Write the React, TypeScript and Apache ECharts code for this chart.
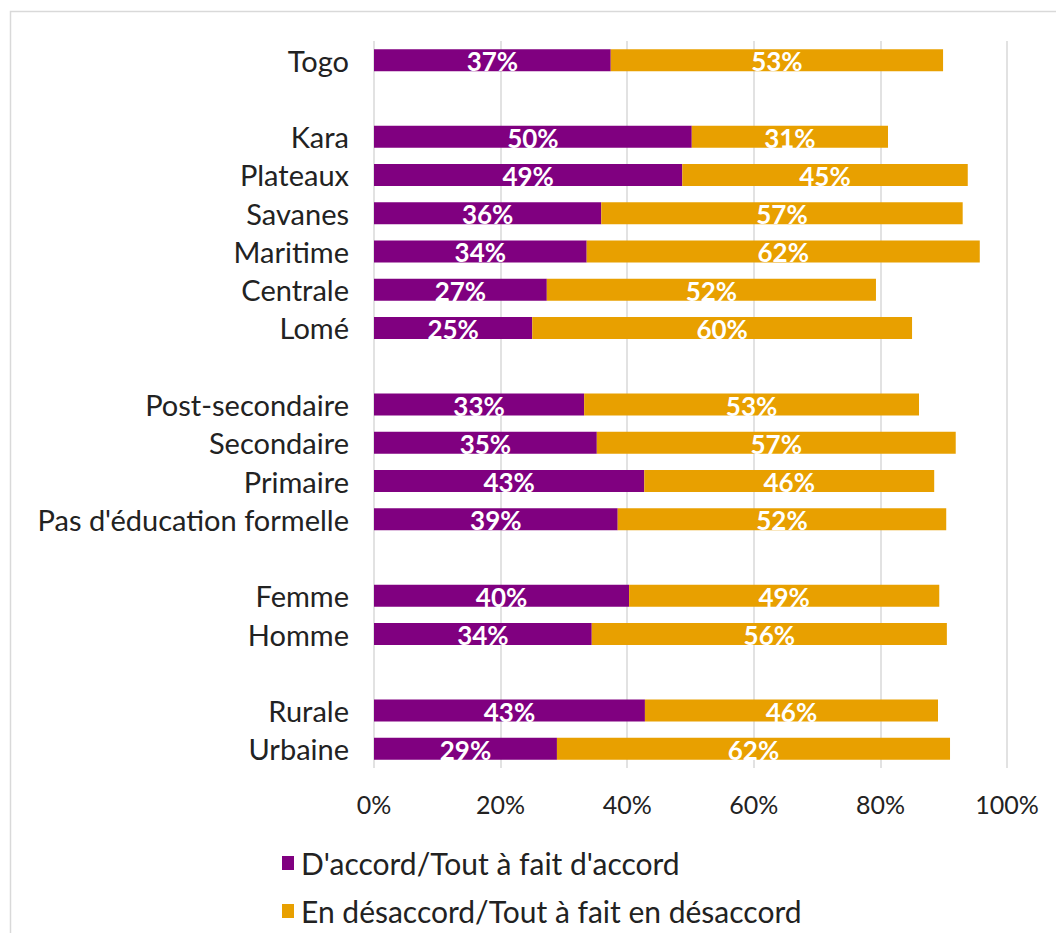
import React, { useEffect, useRef } from "react";
import * as echarts from "echarts";

const categories = [
  "Togo", "", "Kara", "Plateaux", "Savanes", "Maritime", "Centrale", "Lomé", " ",
  "Post-secondaire", "Secondaire", "Primaire", "Pas d'éducation formelle", "  ",
  "Femme", "Homme", "   ", "Rurale", "Urbaine",
];
const accord: (number | null)[] = [
  37.4, null, 50.2, 48.7, 35.9, 33.6, 27.3, 25.0, null,
  33.2, 35.2, 42.7, 38.5, null, 40.3, 34.4, null, 42.8, 28.9,
];
const desaccord: (number | null)[] = [
  52.5, null, 31.0, 45.1, 57.1, 62.1, 52.0, 60.0, null,
  52.9, 56.7, 45.8, 51.9, null, 49.0, 56.1, null, 46.3, 62.1,
];
const seriesNames = ["D'accord/Tout à fait d'accord", "En désaccord/Tout à fait en désaccord"];
const colors = ["#800080", "#E8A000"];
const FONT = "Lato";

export default function App() {
  const ref = useRef<HTMLDivElement>(null);
  useEffect(() => {
    if (!ref.current) return;
    const chart = echarts.init(ref.current, null, { renderer: "svg" });
    const label = {
      show: true,
      position: "inside" as const,
      color: "#fff",
      fontFamily: FONT,
      fontWeight: "bold" as const,
      fontSize: 26,
      offset: [0, 1],
      formatter: (p: any) => (p.value == null ? "" : Math.round(p.value) + "%"),
    };
    chart.setOption({
      animation: false,
      backgroundColor: "#fff",
      graphic: [
        {
          type: "rect",
          shape: { x: 10.5, y: 11.5, width: 1100, height: 1000 },
          style: { fill: "none", stroke: "#d9d9d9", lineWidth: 1.5 },
          silent: true,
        },
      ],
      grid: { left: 374, right: 49, top: 41, bottom: 165, containLabel: false },
      xAxis: {
        type: "value",
        min: 0,
        max: 100,
        interval: 20,
        axisLine: { show: false },
        axisTick: { show: false },
        splitLine: { lineStyle: { color: "#d9d9d9", width: 1.5 } },
        axisLabel: {
          formatter: "{value}%",
          color: "#222",
          fontFamily: FONT,
          fontSize: 25,
          margin: 23,
        },
      },
      yAxis: {
        type: "category",
        inverse: true,
        data: categories,
        axisLine: { show: false },
        axisTick: { show: false },
        axisLabel: {
          color: "#222",
          fontFamily: FONT,
          fontSize: 29,
          margin: 25,
          interval: 0,
          hideOverlap: false,
        },
      },
      legend: {
        orient: "vertical",
        left: 277,
        top: 843,
        itemWidth: 12,
        itemHeight: 14,
        itemGap: 18,
        icon: "rect",
        textStyle: { color: "#222", fontFamily: FONT, fontSize: 30, lineHeight: 30, padding: [0, 0, 0, 2] },
        data: seriesNames,
      },
      series: [
        {
          name: seriesNames[0],
          type: "bar",
          stack: "total",
          barWidth: 22,
          data: accord,
          itemStyle: { color: colors[0] },
          label,
        },
        {
          name: seriesNames[1],
          type: "bar",
          stack: "total",
          barWidth: 22,
          data: desaccord,
          itemStyle: { color: colors[1] },
          label,
        },
      ],
    });
    return () => chart.dispose();
  }, []);
  return <div ref={ref} style={{ width: 1056, height: 933, position: "absolute", left: 0, top: 0 }} />;
}
